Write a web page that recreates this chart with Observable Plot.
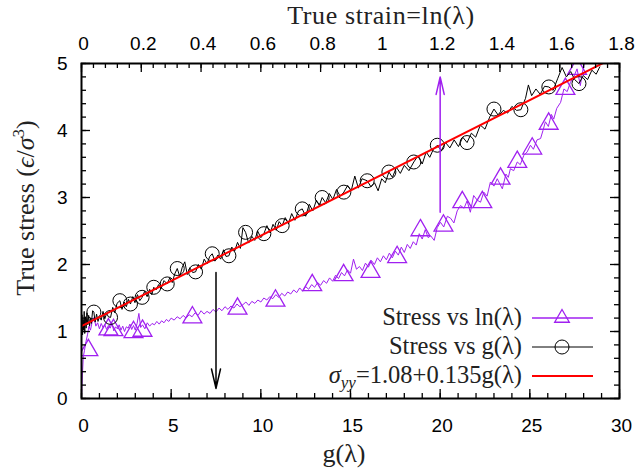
<!DOCTYPE html>
<html><head><meta charset="utf-8">
<script src="https://cdn.jsdelivr.net/npm/d3@7"></script>
<script src="https://cdn.jsdelivr.net/npm/@observablehq/plot@0.6"></script>
<style>
body{margin:0;background:#fff}
#wrap{position:relative;width:638px;height:472px}
</style></head><body><div id="wrap"></div>
<script>
// ---------- data ----------
const blackPts = [[0,0.98],[0.03,1.25],[0.06,0.95],[0.09,1.18],[0.12,1.02],[0.15,1.30],[0.18,0.97],[0.22,1.22],[0.26,1.05],[0.30,1.28],[0.35,1.10],[0.40,1.24],[0.45,1.08],[0.50,1.20],[0.55,1.12],[0.62,1.31],[0.69,1.29],[0.76,1.14],[0.84,1.26],[0.92,1.15],[1.00,1.22],[1.10,1.17],[1.20,1.30],[1.30,1.19],[1.40,1.27],[1.50,1.22],[1.62,1.21],[1.74,1.36],[1.86,1.28],[1.98,1.42],[2.14,1.46],[2.26,1.33],[2.38,1.44],[2.50,1.37],[2.62,1.48],[2.73,1.41],[2.86,1.52],[2.98,1.43],[3.12,1.55],[3.25,1.46],[3.38,1.51],[3.52,1.60],[3.66,1.52],[3.80,1.63],[3.92,1.55],[4.03,1.66],[4.16,1.62],[4.30,1.70],[4.44,1.64],[4.60,1.76],[4.78,1.71],[4.92,1.80],[5.06,1.73],[5.20,1.86],[5.34,1.94],[5.48,1.82],[5.62,1.96],[5.76,2.04],[5.90,1.85],[6.04,1.95],[6.20,1.88],[6.36,1.89],[6.52,2.00],[6.68,1.93],[6.84,2.08],[7.00,2.01],[7.15,2.12],[7.29,2.16],[7.44,2.05],[7.60,2.14],[7.76,2.08],[7.92,2.22],[8.06,2.12],[8.22,2.13],[8.38,2.26],[8.54,2.20],[8.70,2.33],[8.86,2.24],[9.00,2.55],[9.15,2.48],[9.32,2.32],[9.50,2.42],[9.66,2.36],[9.82,2.50],[10.00,2.40],[10.17,2.46],[10.34,2.58],[10.52,2.47],[10.68,2.60],[10.86,2.51],[11.02,2.64],[11.19,2.58],[11.36,2.70],[11.54,2.61],[11.72,2.76],[11.90,2.66],[12.10,2.80],[12.31,2.83],[12.50,2.72],[12.70,2.90],[12.90,2.80],[13.10,2.96],[13.26,2.88],[13.42,3.00],[13.62,2.92],[13.82,3.06],[14.02,2.97],[14.22,3.12],[14.42,3.02],[14.63,3.08],[14.84,3.18],[15.04,3.10],[15.24,3.32],[15.44,3.14],[15.64,3.28],[15.93,3.25],[16.14,3.16],[16.34,3.22],[16.54,3.10],[16.74,3.28],[16.94,3.22],[17.14,3.38],[17.34,3.30],[17.56,3.45],[17.78,3.36],[18.00,3.48],[18.26,3.40],[18.53,3.53],[18.76,3.62],[19.00,3.50],[19.22,3.68],[19.42,3.60],[19.62,3.72],[19.84,3.78],[20.06,3.70],[20.30,3.82],[20.54,3.74],[20.78,3.86],[21.02,3.76],[21.26,3.90],[21.50,3.82],[21.74,3.96],[21.98,3.90],[22.24,4.08],[22.50,4.02],[22.76,4.20],[23.00,4.32],[23.26,4.22],[23.52,4.30],[23.76,4.26],[24.00,4.36],[24.26,4.30],[24.50,4.31],[24.76,4.48],[24.92,4.68],[25.10,4.52],[25.34,4.62],[25.58,4.54],[25.82,4.66],[26.06,4.65],[26.30,4.60],[26.56,4.78],[26.80,4.94],[27.04,4.80],[27.28,4.88],[27.50,4.76],[27.74,4.70],[27.98,4.82],[28.22,4.76],[28.46,4.90],[28.70,4.84],[28.90,4.95]];

// stress vs true strain ln(lambda): [strain, stress]
const purplePts = [[0,0.02],[0.003,0.35],[0.006,0.62],[0.010,0.72],[0.015,0.85],[0.020,0.95],[0.025,1.08],[0.030,1.02],[0.036,1.15],[0.042,1.21],[0.048,1.08],[0.054,1.13],[0.060,1.04],[0.066,1.12],[0.072,1.06],[0.078,1.10],[0.084,1.03],[0.090,1.09],[0.096,1.05],[0.102,1.12],[0.108,1.01],[0.114,1.07],[0.120,1.04],[0.126,1.10],[0.132,1.02],[0.138,1.08],[0.144,1.00],[0.150,1.07],[0.156,1.05],[0.162,1.11],[0.168,1.03],[0.174,1.09],[0.180,1.02],[0.186,1.12],[0.192,1.27],[0.198,1.06],[0.204,1.10],[0.212,1.04],[0.220,1.13],[0.228,1.08],[0.236,1.12],[0.244,1.10],[0.252,1.15],[0.260,1.11],[0.268,1.16],[0.276,1.13],[0.284,1.18],[0.292,1.15],[0.300,1.20],[0.310,1.17],[0.320,1.22],[0.330,1.19],[0.340,1.24],[0.350,1.20],[0.360,1.25],[0.370,1.22],[0.380,1.28],[0.390,1.24],[0.400,1.31],[0.410,1.26],[0.420,1.30],[0.430,1.27],[0.440,1.33],[0.450,1.29],[0.460,1.35],[0.470,1.31],[0.480,1.37],[0.490,1.33],[0.500,1.38],[0.510,1.35],[0.520,1.41],[0.530,1.37],[0.540,1.40],[0.550,1.44],[0.560,1.39],[0.570,1.45],[0.580,1.42],[0.590,1.47],[0.600,1.44],[0.610,1.50],[0.620,1.47],[0.630,1.52],[0.640,1.49],[0.650,1.55],[0.660,1.51],[0.670,1.57],[0.680,1.53],[0.690,1.59],[0.700,1.56],[0.710,1.62],[0.720,1.58],[0.730,1.65],[0.740,1.60],[0.750,1.67],[0.760,1.63],[0.770,1.70],[0.780,1.66],[0.790,1.73],[0.800,1.69],[0.810,1.76],[0.820,1.72],[0.830,1.80],[0.840,1.75],[0.850,1.84],[0.860,1.79],[0.870,1.88],[0.880,1.83],[0.890,1.92],[0.900,1.87],[0.910,2.08],[0.920,1.93],[0.930,1.97],[0.940,1.91],[0.950,2.02],[0.960,1.96],[0.970,2.06],[0.980,2.00],[0.990,2.10],[1.000,2.04],[1.010,2.13],[1.020,2.07],[1.030,2.17],[1.040,2.10],[1.050,2.20],[1.060,2.14],[1.070,2.26],[1.080,2.18],[1.090,2.30],[1.100,2.24],[1.110,2.34],[1.120,2.29],[1.130,2.46],[1.140,2.38],[1.150,2.52],[1.160,2.40],[1.168,2.43],[1.180,2.36],[1.190,2.55],[1.201,2.63],[1.212,2.56],[1.224,2.72],[1.235,2.69],[1.246,2.62],[1.257,2.80],[1.268,2.88],[1.280,2.84],[1.290,2.95],[1.301,2.78],[1.312,3.03],[1.324,2.96],[1.335,2.93],[1.346,3.08],[1.357,3.02],[1.368,3.23],[1.380,3.17],[1.391,3.28],[1.400,3.20],[1.408,3.13],[1.420,3.35],[1.428,3.30],[1.435,3.43],[1.446,3.40],[1.458,3.53],[1.468,3.49],[1.480,3.63],[1.491,3.68],[1.502,3.78],[1.512,3.72],[1.524,3.86],[1.536,3.88],[1.544,4.00],[1.552,4.13],[1.562,4.06],[1.572,4.24],[1.580,4.17],[1.590,4.33],[1.603,4.42],[1.614,4.62],[1.625,4.58],[1.636,4.72],[1.647,4.80],[1.658,4.92],[1.669,4.67],[1.675,4.85],[1.681,4.97],[1.690,5.12]];

const circlePts = [[0.69,1.29],[1.62,1.21],[2.14,1.46],[2.73,1.41],[3.38,1.51],[4.03,1.66],[4.78,1.71],[5.34,1.94],[6.36,1.89],[7.29,2.16],[8.22,2.13],[9.15,2.48],[10.17,2.46],[11.19,2.58],[12.31,2.83],[13.42,3.00],[14.63,3.08],[15.93,3.25],[17.14,3.38],[18.53,3.53],[19.84,3.78],[21.50,3.82],[23.00,4.32],[24.50,4.31],[26.06,4.65],[27.74,4.70]];
const trianglePts = [[0.023,0.72],[0.090,1.03],[0.107,1.02],[0.174,0.99],[0.204,1.01],[0.371,1.21],[0.522,1.34],[0.649,1.46],[0.772,1.69],[0.877,1.84],[0.967,1.89],[1.056,2.11],[1.134,2.51],[1.211,2.58],[1.274,2.93],[1.341,2.93],[1.402,3.28],[1.458,3.53],[1.508,3.73],[1.563,4.10],[1.619,4.62],[1.658,4.92]];

const fitPts = [[0,1.08],[30,5.13]];            // sigma_yy = 1.08 + 0.135 g
const arrowsBlack = [[7.5,1.88,0.15]];          // [g, from, to]
const arrowsPurple = [[20,2.78,4.8]];

const gTicks = [0,5,10,15,20,25,30];
const strainTicks = [0,0.2,0.4,0.6,0.8,1,1.2,1.4,1.6,1.8];
const yTicks = [0,1,2,3,4,5];
const legendLabels = ["Stress vs ln(λ)","Stress vs g(λ)"];

// ---------- chart ----------
const PURPLE = "#a020f0";
const G_PER_STRAIN = 30/1.8;   // top axis 0–1.8 spans same width as 0–30
const W=638,H=472,mL=81,mR=19,mT=63,mB=74;
const pw=W-mL-mR, ph=H-mT-mB;
const gMinor = d3.range(0,31,1);
const strainMinor = d3.range(0,1.8001,0.04);
const yMinor = d3.range(0,5.001,0.2);
const sx = s => s*G_PER_STRAIN;
const tickFont = '"Liberation Sans", Arial, sans-serif';

const chart = Plot.plot({
  width:W,height:H,marginLeft:mL,marginRight:mR,marginTop:mT,marginBottom:mB,
  x:{domain:[0,30],axis:null}, y:{domain:[0,5],axis:null},
  style:{background:"#fff",fontFamily:tickFont,overflow:"visible"},
  marks:[
    Plot.line(purplePts,{x:d=>sx(d[0]),y:d=>d[1],stroke:PURPLE,strokeWidth:1,clip:true}),
    Plot.dot(trianglePts,{x:d=>sx(d[0]),y:d=>d[1],symbol:"triangle",r:7,stroke:PURPLE,strokeWidth:1.3,fill:"none",clip:true}),
    Plot.line(blackPts,{x:d=>d[0],y:d=>d[1],stroke:"#000",strokeWidth:1,clip:true}),
    Plot.dot(circlePts,{x:d=>d[0],y:d=>d[1],r:7,stroke:"#000",strokeWidth:1,fill:"none"}),
    Plot.line(fitPts,{x:d=>d[0],y:d=>d[1],stroke:"#ff0000",strokeWidth:2,clip:true}),
    Plot.arrow(arrowsBlack,{x1:d=>d[0],y1:d=>d[1],x2:d=>d[0],y2:d=>d[2],stroke:"#000",strokeWidth:1.5,headAngle:26,headLength:20}),
    Plot.arrow(arrowsPurple,{x1:d=>d[0],y1:d=>d[1],x2:d=>d[0],y2:d=>d[2],stroke:PURPLE,strokeWidth:1.5,headAngle:26,headLength:18}),
    // ticks (inward)
    Plot.tickX(gMinor,{x:d=>d,insetTop:ph-5,strokeWidth:1.3}),
    Plot.tickX(gTicks,{x:d=>d,insetTop:ph-9,strokeWidth:1.3}),
    Plot.tickX(strainMinor,{x:sx,insetBottom:ph-5,strokeWidth:1.3}),
    Plot.tickX(strainTicks,{x:sx,insetBottom:ph-9,strokeWidth:1.3}),
    Plot.tickY(yMinor,{y:d=>d,insetRight:pw-5,strokeWidth:1.3}),
    Plot.tickY(yTicks,{y:d=>d,insetRight:pw-9,strokeWidth:1.3}),
    Plot.tickY(yMinor,{y:d=>d,insetLeft:pw-5,strokeWidth:1.3}),
    Plot.tickY(yTicks,{y:d=>d,insetLeft:pw-9,strokeWidth:1.3}),
    // tick labels
    Plot.text(gTicks,{x:d=>d,text:d=>String(d),frameAnchor:"bottom",lineAnchor:"top",dy:20,dx:2,fontSize:19,fill:"#000"}),
    Plot.text(strainTicks,{x:sx,text:d=>String(d),frameAnchor:"top",lineAnchor:"bottom",dy:-14,dx:2,fontSize:19,fill:"#000"}),
    Plot.text(yTicks,{y:d=>d,text:d=>String(d),frameAnchor:"left",textAnchor:"end",dx:-14,fontSize:19,fill:"#000"}),
    Plot.frame({stroke:"#000",strokeWidth:2})
  ]
});
document.getElementById("wrap").append(chart);

// ---------- titles & legend ----------
const svg = d3.select(chart);
const serif = '"Liberation Serif", "DejaVu Serif", serif';
const T = svg.append("g").attr("font-family",serif).attr("fill","#222");

T.append("text").attr("x",381).attr("y",24).attr("text-anchor","middle").attr("font-size",26).attr("letter-spacing",0.6).text("True strain=ln(λ)");
T.append("text").attr("x",344).attr("y",462).attr("text-anchor","middle").attr("font-size",26).text("g(λ)");
const yl = T.append("text").attr("transform","translate(34,208) rotate(-90)").attr("text-anchor","middle").attr("font-size",26);
yl.append("tspan").text("True stress (");
yl.append("tspan").attr("font-style","italic").text("ϵ");
yl.append("tspan").text("/");
yl.append("tspan").attr("font-style","italic").text("σ");
yl.append("tspan").attr("font-size",17).attr("dy",-10).text("3");
yl.append("tspan").attr("dy",10).text(")");

const L = svg.append("g").attr("font-family",serif).attr("fill","#222");
const rowsY = [318,347,376];
L.append("text").attr("x",522).attr("y",rowsY[0]+7).attr("text-anchor","end").attr("font-size",24.5).text(legendLabels[0]);
L.append("text").attr("x",522).attr("y",rowsY[1]+7).attr("text-anchor","end").attr("font-size",24.5).text(legendLabels[1]);
const l3 = L.append("text").attr("x",522).attr("y",rowsY[2]+7).attr("text-anchor","end").attr("font-size",24.5);
l3.append("tspan").attr("font-style","italic").text("σ");
l3.append("tspan").attr("font-style","italic").attr("font-size",17).attr("dy",5).text("yy");
l3.append("tspan").attr("dy",-5).text("=1.08+0.135g(λ)");

L.append("line").attr("x1",532).attr("x2",593).attr("y1",rowsY[0]).attr("y2",rowsY[0]).attr("stroke",PURPLE).attr("stroke-width",1.5);
L.append("path").attr("d",d3.symbol(d3.symbolTriangle2, Math.PI*49)()).attr("transform",`translate(562,${rowsY[0]})`).attr("fill","none").attr("stroke",PURPLE).attr("stroke-width",1.3);
L.append("line").attr("x1",532).attr("x2",593).attr("y1",rowsY[1]).attr("y2",rowsY[1]).attr("stroke","#000").attr("stroke-width",1);
L.append("circle").attr("cx",562).attr("cy",rowsY[1]).attr("r",7).attr("fill","none").attr("stroke","#000");
L.append("line").attr("x1",532).attr("x2",593).attr("y1",rowsY[2]).attr("y2",rowsY[2]).attr("stroke","#ff0000").attr("stroke-width",2);
</script></body></html>
